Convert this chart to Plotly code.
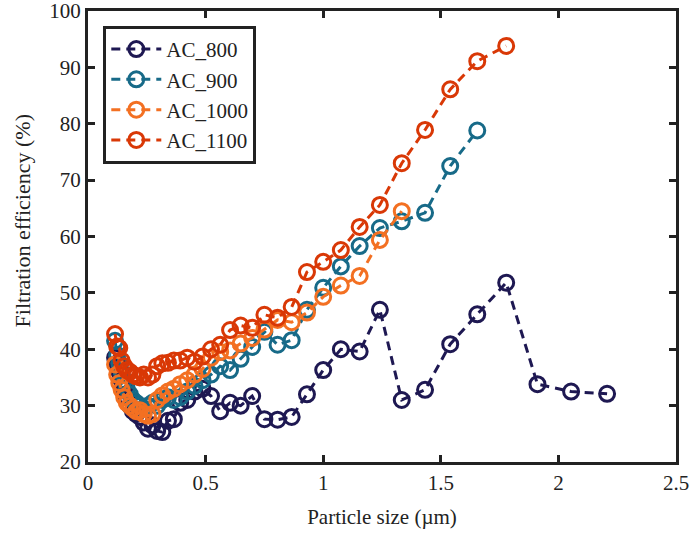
import plotly.graph_objects as go

# Particle size channels (µm)
size = [0.115, 0.124, 0.133, 0.143, 0.154, 0.165, 0.178, 0.191, 0.205, 0.221,
        0.237, 0.255, 0.274, 0.294, 0.316, 0.340, 0.365, 0.392, 0.422, 0.453,
        0.487, 0.523, 0.562, 0.604, 0.649, 0.698, 0.750, 0.806, 0.866, 0.931,
        1.000, 1.075, 1.155, 1.241, 1.334, 1.433, 1.540, 1.655, 1.778, 1.911,
        2.054, 2.207]

# Filtration efficiency (%) per sample
ac_800 = [38.5, 37.5, 36.0, 34.5, 33.0, 31.5, 30.0, 29.0, 28.5, 28.0,
          27.0, 25.9, 26.5, 25.5, 25.3, 27.3, 27.6, 30.5, 31.0, 32.5,
          33.0, 31.7, 29.0, 30.5, 30.0, 31.7, 27.6, 27.5, 28.0, 32.0,
          36.3, 40.0, 39.6, 47.0, 31.0, 32.8, 40.9, 46.2, 51.8, 33.8,
          32.5, 32.1]
ac_900 = [41.5, 39.0, 37.5, 36.0, 34.5, 33.0, 32.0, 31.0, 30.5, 30.0,
          29.5, 30.0, 30.5, 30.0, 31.0, 31.5, 31.0, 31.5, 32.5, 33.5,
          34.5, 35.5, 37.0, 36.3, 38.3, 40.4, 43.1, 40.8, 41.6, 47.0,
          50.9, 54.7, 58.3, 61.5, 62.7, 64.2, 72.5, 78.8]
ac_1000 = [37.3, 35.5, 34.0, 32.8, 31.5, 30.5, 30.0, 29.5, 29.0, 29.2,
           28.5, 28.2, 28.5, 31.0, 31.8, 32.5, 33.0, 33.8, 34.5, 35.5,
           36.5, 38.5, 39.5, 39.8, 41.0, 42.0, 43.5, 45.2, 44.8, 46.5,
           49.3, 51.3, 53.0, 59.4, 64.5]
ac_1100 = [42.7, 40.5, 40.2, 38.0, 37.0, 36.3, 36.0, 35.5, 35.2, 35.0,
           35.5, 35.0, 35.5, 37.0, 37.5, 37.6, 38.0, 38.0, 38.5, 37.8,
           38.7, 40.0, 40.8, 43.4, 44.2, 43.8, 46.1, 45.6, 47.5, 53.7,
           55.5, 57.6, 61.7, 65.6, 73.0, 78.9, 86.1, 91.1, 93.8]

series = [
    ("AC_800", ac_800, "#1e1852"),
    ("AC_900", ac_900, "#176a88"),
    ("AC_1000", ac_1000, "#f37022"),
    ("AC_1100", ac_1100, "#d93806"),
]

fig = go.Figure()
for name, vals, color in series:
    fig.add_trace(go.Scatter(
        x=size[:len(vals)], y=vals, name=name, mode="lines+markers",
        line=dict(color=color, width=3, dash="9px,6px"),
        marker=dict(symbol="circle-open", size=15, color=color,
                    line=dict(color=color, width=3)),
    ))

axis_common = dict(
    showline=True, linecolor="#222222", linewidth=3, mirror="allticks",
    ticks="inside", ticklen=7, tickwidth=3, tickcolor="#222222",
    showgrid=False, zeroline=False, automargin=False,
    ticklabeloverflow="allow",
    tickfont=dict(family="Liberation Serif", size=21, color="#222222"),
)

fig.update_layout(
    width=690, height=537,
    margin=dict(l=88, r=14, t=11, b=75),
    paper_bgcolor="white", plot_bgcolor="white",
    font=dict(family="Liberation Serif", size=20, color="#222222"),
    xaxis=dict(range=[0, 2.5], tickvals=[0, 0.5, 1, 1.5, 2, 2.5],
               ticktext=["0", "0.5", "1", "1.5", "2", "2.5"],
               title=dict(text="Particle size (µm)", standoff=16,
                          font=dict(family="Liberation Serif", size=21)),
               **axis_common),
    yaxis=dict(range=[20, 100], tickvals=list(range(20, 101, 10)),
               **axis_common),
    legend=dict(x=0.026, y=0.967, xanchor="left", yanchor="top",
                bgcolor="white", bordercolor="#222222", borderwidth=3,
                font=dict(family="Liberation Serif", size=21, color="#222222"),
                tracegroupgap=0, itemwidth=50),
    showlegend=True,
)

# Y-axis title placed as a rotated annotation near the left edge
fig.add_annotation(
    text="Filtration efficiency (%)", textangle=-90,
    xref="paper", yref="paper", x=-0.111, y=0.535,
    xanchor="center", yanchor="middle", showarrow=False,
    font=dict(family="Liberation Serif", size=22, color="#222222"),
)

fig.write_html("out.html")
